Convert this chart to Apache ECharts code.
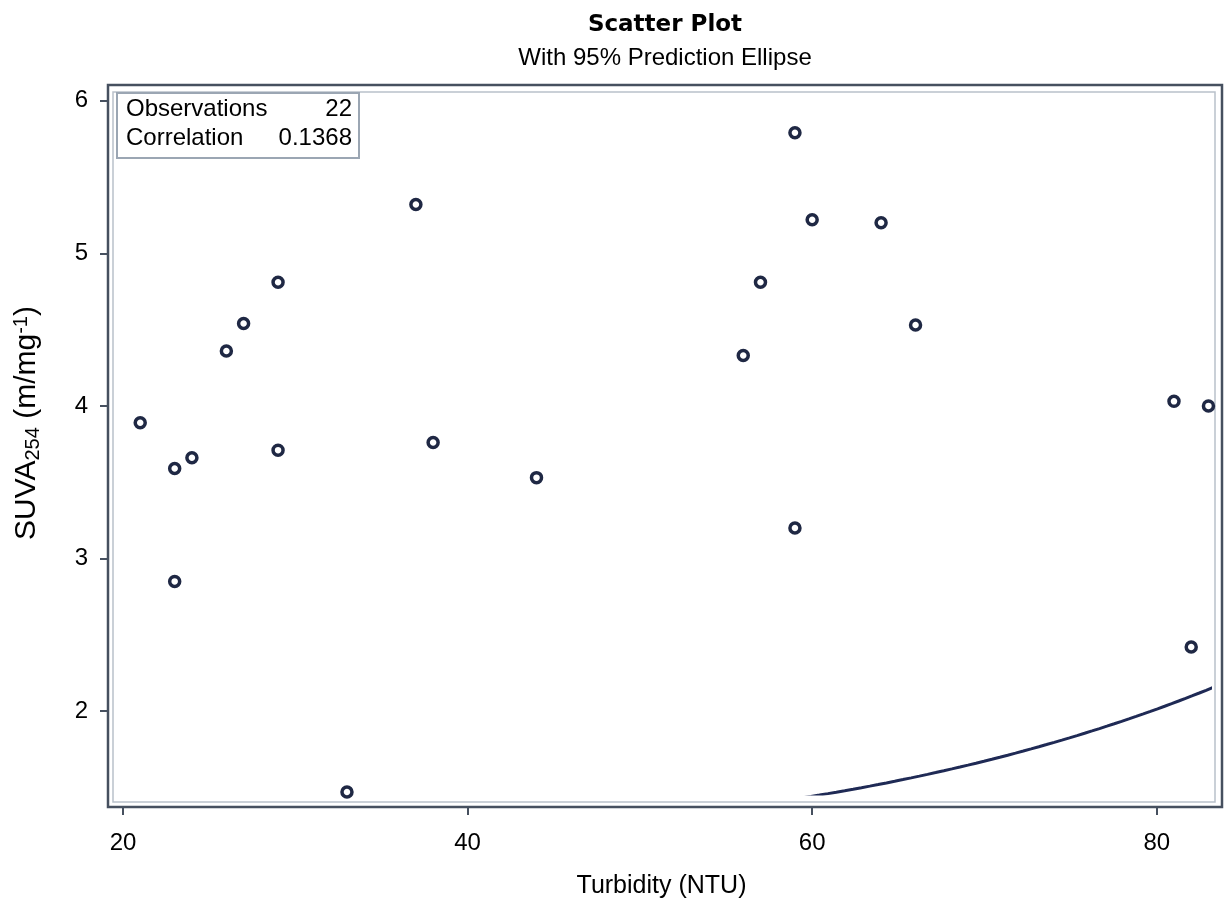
<!DOCTYPE html>
<html>
<head>
<meta charset="utf-8">
<title>Scatter Plot</title>
<script src="https://cdn.jsdelivr.net/npm/echarts@6/dist/echarts.min.js"></script>
<style>
  html, body { margin: 0; padding: 0; background: #ffffff; }
  #chart { width: 1227px; height: 909px; }
</style>
</head>
<body>
<div id="chart"></div>
<script>
// Observations: turbidity (NTU) against SUVA254 (m/mg-1)
const turbidity = [21, 23, 24, 23, 26, 27, 29, 29, 33, 37, 38, 44, 56, 57, 59, 60, 59, 64, 66, 81, 83, 82];
const suva = [3.89, 3.59, 3.66, 2.85, 4.36, 4.54, 4.81, 3.71, 1.47, 5.32, 3.76, 3.53, 4.33, 4.81, 5.79, 5.22, 3.20, 5.20, 4.53, 4.03, 4.00, 2.42];

const xTicks = [20, 40, 60, 80];
const yTicks = [2, 3, 4, 5, 6];

const correlationLabel = '0.1368';
const ellipseLevel = 0.95;

// Prediction ellipse from the sample mean and covariance (F quantile with df1 = 2 has a closed form)
function predictionEllipse(xs, ys, level) {
  const n = xs.length;
  const mx = xs.reduce((a, b) => a + b, 0) / n;
  const my = ys.reduce((a, b) => a + b, 0) / n;
  let sxx = 0, syy = 0, sxy = 0;
  for (let i = 0; i < n; i++) {
    const dx = xs[i] - mx, dy = ys[i] - my;
    sxx += dx * dx; syy += dy * dy; sxy += dx * dy;
  }
  sxx /= (n - 1); syy /= (n - 1); sxy /= (n - 1);
  const sx = Math.sqrt(sxx), sy = Math.sqrt(syy), r = sxy / (sx * sy);
  const df2 = n - 2;
  const f = (df2 / 2) * (Math.pow(1 - level, -2 / df2) - 1);
  const c = Math.sqrt(2 * (n + 1) * (n - 1) / (n * df2) * f);
  const pts = [];
  for (let i = 0; i <= 720; i++) {
    const t = i * Math.PI / 360;
    pts.push([
      mx + c * sx * Math.cos(t),
      my + c * sy * (r * Math.cos(t) + Math.sqrt(1 - r * r) * Math.sin(t))
    ]);
  }
  return pts;
}

const axisDark = '#46505f';
const wallGray = '#b9c1ca';
const markerColor = '#1f2844';
const ellipseColor = '#1f2a55';
const baseFont = 'Liberation Sans, Arial, sans-serif';

const chart = echarts.init(document.getElementById('chart'), null, { renderer: 'canvas' });

chart.setOption({
  animation: false,
  backgroundColor: '#ffffff',
  title: [
    {
      text: 'Scatter Plot',
      left: 660, top: 9, textAlign: 'center',
      textStyle: { fontFamily: 'DejaVu Sans', fontWeight: 'bold', fontSize: 23, color: '#000' }
    },
    {
      text: 'With 95% Prediction Ellipse',
      left: 660, top: 41, textAlign: 'center',
      textStyle: { fontFamily: baseFont, fontWeight: 'normal', fontSize: 24, color: '#000' }
    }
  ],
  // data area; the wall and the outer frame are drawn as graphics around it
  grid: {
    left: 113, right: 17, top: 92, bottom: 115,
    show: false
  },
  xAxis: {
    type: 'value',
    min: 19.42, max: 83.09,
    offset: 13,
    name: 'Turbidity (NTU)',
    nameLocation: 'middle',
    nameGap: 67,
    nameTextStyle: { fontFamily: baseFont, fontSize: 25, color: '#000' },
    axisLine: { show: true, onZero: false, lineStyle: { color: axisDark, width: 2 } },
    axisTick: { show: true, length: 8, customValues: xTicks, lineStyle: { color: axisDark, width: 2 } },
    axisLabel: { customValues: xTicks, fontFamily: baseFont, fontSize: 24, color: '#000', margin: 24 },
    splitLine: { show: false }
  },
  yAxis: {
    type: 'value',
    min: 1.457, max: 6.057,
    offset: 5,
    name: 'SUVA{sub|254} (m/mg{sup|-1})',
    nameLocation: 'middle',
    nameGap: 65,
    nameTextStyle: {
      fontFamily: baseFont, fontSize: 30, color: '#000', lineHeight: 32,
      padding: [0, 0, 0, 40],
      rich: {
        sub: { fontFamily: baseFont, fontSize: 20, color: '#000', verticalAlign: 'bottom', lineHeight: 32 },
        sup: { fontFamily: baseFont, fontSize: 20, color: '#000', verticalAlign: 'top', lineHeight: 32 }
      }
    },
    axisLine: { show: true, onZero: false, lineStyle: { color: axisDark, width: 2 } },
    axisTick: { show: true, length: 8, customValues: yTicks, lineStyle: { color: axisDark, width: 2 } },
    axisLabel: { customValues: yTicks, fontFamily: baseFont, fontSize: 24, color: '#000', margin: 20 },
    splitLine: { show: false }
  },
  graphic: [
    {
      type: 'rect', z: 0, silent: true,
      shape: { x: 113, y: 92, width: 1102, height: 710 },
      style: { fill: null, stroke: wallGray, lineWidth: 1.5 }
    },
    {
      type: 'rect', z: 100, silent: true,
      shape: { x: 108, y: 85, width: 1114, height: 722 },
      style: { fill: null, stroke: axisDark, lineWidth: 2.5 }
    },
    {
      type: 'group', z: 110, silent: true,
      children: [
        {
          type: 'rect',
          shape: { x: 117, y: 93, width: 242, height: 65 },
          style: { fill: '#ffffff', stroke: '#9ba6b3', lineWidth: 2 }
        },
        {
          type: 'text', x: 126, y: 109,
          style: { text: 'Observations', font: '24px ' + baseFont, fill: '#000', verticalAlign: 'middle', align: 'left' }
        },
        {
          type: 'text', x: 352, y: 109,
          style: { text: String(turbidity.length), font: '24px ' + baseFont, fill: '#000', verticalAlign: 'middle', align: 'right' }
        },
        {
          type: 'text', x: 126, y: 138,
          style: { text: 'Correlation', font: '24px ' + baseFont, fill: '#000', verticalAlign: 'middle', align: 'left' }
        },
        {
          type: 'text', x: 352, y: 138,
          style: { text: correlationLabel, font: '24px ' + baseFont, fill: '#000', verticalAlign: 'middle', align: 'right' }
        }
      ]
    }
  ],
  series: [
    {
      name: 'Prediction Ellipse',
      type: 'line',
      data: predictionEllipse(turbidity, suva, ellipseLevel),
      showSymbol: false,
      clip: true,
      silent: true,
      z: 2,
      lineStyle: { color: ellipseColor, width: 3 }
    },
    {
      name: 'Observations',
      type: 'scatter',
      data: turbidity.map((x, i) => [x, suva[i]]),
      symbol: 'circle',
      symbolSize: 10,
      clip: false,
      z: 3,
      itemStyle: { color: '#ffffff', borderColor: markerColor, borderWidth: 3.5, opacity: 1 }
    }
  ]
});
</script>
</body>
</html>
